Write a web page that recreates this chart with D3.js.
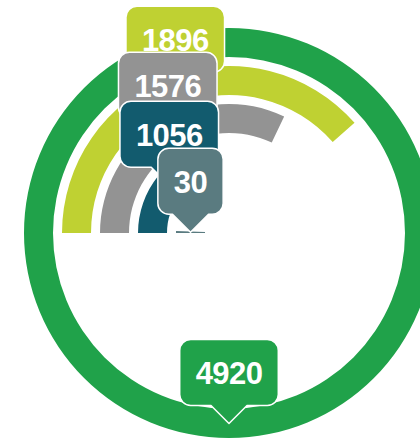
<!DOCTYPE html>
<html>
<head>
<meta charset="utf-8">
<script src="https://cdn.jsdelivr.net/npm/d3@7"></script>
<style>
html,body{margin:0;padding:0;background:#fff;}
svg{display:block;}
</style>
</head>
<body>
<svg id="chart" width="420" height="438"></svg>
<script>
const categories = ["Total", "A", "B", "C", "D"];
const values = [4920, 1896, 1576, 1056, 30];
const colors = ["#20a24a", "#bfd132", "#939393", "#125b6e", "#5a7b80"];

const W = 420, H = 438;
const cx = 229, cy = 233;
const bandWidth = 29, step = 38, outerMax = 205;

const svg = d3.select("#chart");
const g = svg.append("g").attr("transform", `translate(${cx},${cy})`);

const maxV = d3.max(values);
const angle = d3.scaleLinear().domain([0, maxV]).range([0, 2 * Math.PI]);
const radius = d3.scaleLinear().domain([0, 1]).range([outerMax, outerMax - step]);

const data = values.map((v, i) => {
  const start = v >= maxV ? 0 : -Math.PI / 2;
  const ro = radius(i);
  return {cat: categories[i], v, color: colors[i], start, end: start + angle(v), ro, ri: ro - bandWidth};
});

const arc = d3.arc();
g.selectAll("path.bar").data(data).join("path")
  .attr("class", "bar")
  .attr("fill", d => d.color)
  .attr("d", d => arc({innerRadius: d.ri, outerRadius: d.ro, startAngle: d.start, endAngle: d.end}));

// callout labels
const boxH = 66, ptrH = 18, ptrHalf = 18, rr = 11, pad = 16;
data.forEach(d => {
  const a = (d.start + d.end) / 2;
  const rm = (d.ro + d.ri) / 2;
  const tx = rm * Math.sin(a), ty = -rm * Math.cos(a);
  const lg = g.append("g").attr("transform", `translate(${tx},${ty})`);
  const path = lg.append("path");
  const text = lg.append("text")
    .attr("x", 0).attr("y", -ptrH - boxH / 2 + 1)
    .attr("text-anchor", "middle")
    .attr("dominant-baseline", "central")
    .attr("fill", "#fff")
    .style("font-family", "'Liberation Sans', Arial, sans-serif")
    .style("font-weight", "bold")
    .style("font-size", "31px")
    .style("letter-spacing", "-0.6px")
    .text(d3.format("d")(d.v));
  const tw = text.node().getComputedTextLength();
  const bw = tw + 2 * pad;
  const L = -bw / 2, R = bw / 2, B = -ptrH, T = -ptrH - boxH;
  const p = d3.path();
  p.moveTo(0, 0);
  p.lineTo(ptrHalf, B);
  p.lineTo(R - rr, B);
  p.arcTo(R, B, R, B - rr, rr);
  p.lineTo(R, T + rr);
  p.arcTo(R, T, R - rr, T, rr);
  p.lineTo(L + rr, T);
  p.arcTo(L, T, L, T + rr, rr);
  p.lineTo(L, B - rr);
  p.arcTo(L, B, L + rr, B, rr);
  p.lineTo(-ptrHalf, B);
  p.closePath();
  path.attr("d", p.toString())
    .attr("fill", d.color)
    .attr("stroke", "#fff")
    .attr("stroke-width", 1.5)
    .attr("stroke-linejoin", "round");
});
</script>
</body>
</html>
